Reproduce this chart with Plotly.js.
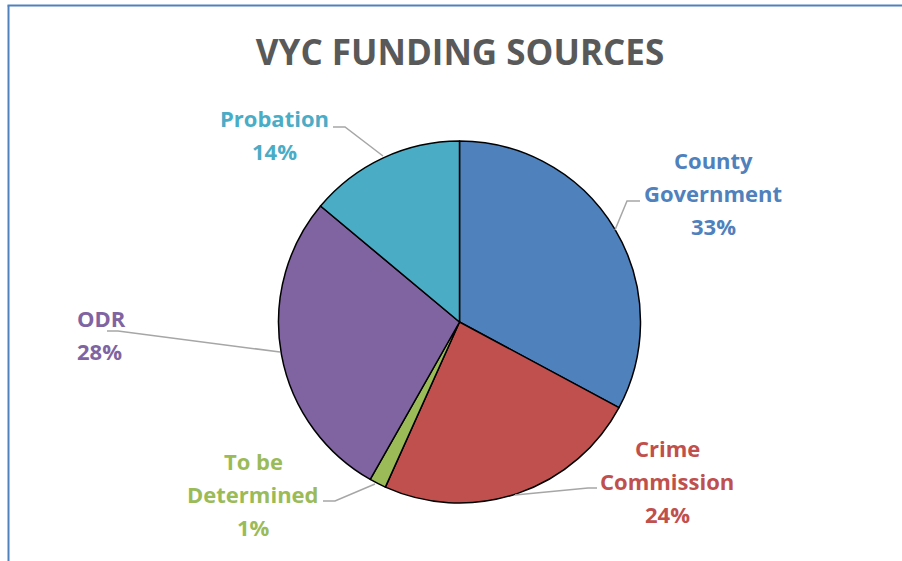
<!DOCTYPE html>
<html>
<head>
<meta charset="utf-8">
<script src="https://cdn.plot.ly/plotly-3.0.1.min.js"></script>
<style>html,body{margin:0;padding:0;background:#fff;}#chart{width:902px;height:561px;}</style>
</head>
<body>
<div id="chart"></div>
<script>
// ---- data ----
const categories = ['County Government', 'Crime Commission', 'To be Determined', 'ODR', 'Probation'];
const labelLines = [['County', 'Government'], ['Crime', 'Commission'], ['To be', 'Determined'], ['ODR'], ['Probation']];
const values = [33, 24, 1.5, 28, 14];
const colors = ['#4F81BD', '#C0504D', '#9BBB59', '#8064A2', '#4BACC6'];

// ---- layout helpers (pixel -> paper, margins are zero) ----
const W = 902, H = 561;
const px = x => x / W;
const py = y => 1 - y / H;

const total = values.reduce((a, b) => a + b, 0);
const pct = values.map(v => Math.round(v / total * 100) + '%');

// label block: centre x, first line centre y, anchor
const labelPos = [
  {x: 713, y: 160, xa: 'center'},
  {x: 667, y: 448, xa: 'center'},
  {x: 253, y: 461, xa: 'center'},
  {x: 75, y: 318, xa: 'left'},
  {x: 274, y: 118, xa: 'center'}
];
const lineGap = 33;
// leader lines (layout polylines, pixels)
const leaders = [
  [[640, 201], [627, 201], [615, 230]],
  [[597, 488], [588, 488], [515, 495]],
  [[323, 501], [335, 501], [375, 484]],
  [[107, 331], [118, 331], [280, 352]],
  [[333, 127], [345, 127], [383, 156]]
];

const labelFont = '"Open Sans", Lato, sans-serif';
const annotations = [];
categories.forEach((c, i) => {
  const p = labelPos[i];
  const lines = labelLines[i].concat([pct[i]]);
  lines.forEach((t, k) => {
    annotations.push({
      xref: 'paper', yref: 'paper',
      x: px(p.x), y: py(p.y + k * lineGap),
      xanchor: p.xa, yanchor: 'middle',
      showarrow: false,
      text: t,
      font: {family: labelFont, size: 22, color: colors[i], weight: 'bold'}
    });
  });
});

const shapes = leaders.map(pts => ({
  type: 'path', xref: 'paper', yref: 'paper',
  path: 'M' + pts.map(q => px(q[0]) + ',' + py(q[1])).join(' L'),
  line: {color: '#A6A6A6', width: 1.5}
}));
// chart frame (left and top edges visible)
shapes.push({type: 'line', xref: 'paper', yref: 'paper', x0: px(8.5), x1: px(8.5), y0: py(5.5), y1: py(580), line: {color: '#4F81BD', width: 2}});
shapes.push({type: 'line', xref: 'paper', yref: 'paper', x0: px(7.5), x1: px(920), y0: py(5.5), y1: py(5.5), line: {color: '#4F81BD', width: 2}});

const cx = 459.5, cy = 322, r = 181;
const trace = {
  type: 'pie',
  labels: categories,
  values: values,
  sort: false,
  direction: 'clockwise',
  rotation: 0,
  textinfo: 'none',
  hoverinfo: 'label+percent',
  marker: {colors: colors, line: {color: '#000000', width: 1.5}},
  domain: {x: [px(cx - r), px(cx + r)], y: [py(cy + r), py(cy - r)]},
  showlegend: false
};

const layout = {
  width: W, height: H,
  margin: {l: 0, r: 0, t: 0, b: 0},
  paper_bgcolor: '#FFFFFF',
  title: {
    text: 'VYC FUNDING SOURCES',
    x: px(460), xanchor: 'center', y: py(53), yanchor: 'middle',
    font: {family: labelFont, size: 35, color: '#595959', weight: 'bold'}
  },
  annotations: annotations,
  shapes: shapes
};

Plotly.newPlot('chart', [trace], layout, {displayModeBar: false, staticPlot: true});
</script>
</body>
</html>
